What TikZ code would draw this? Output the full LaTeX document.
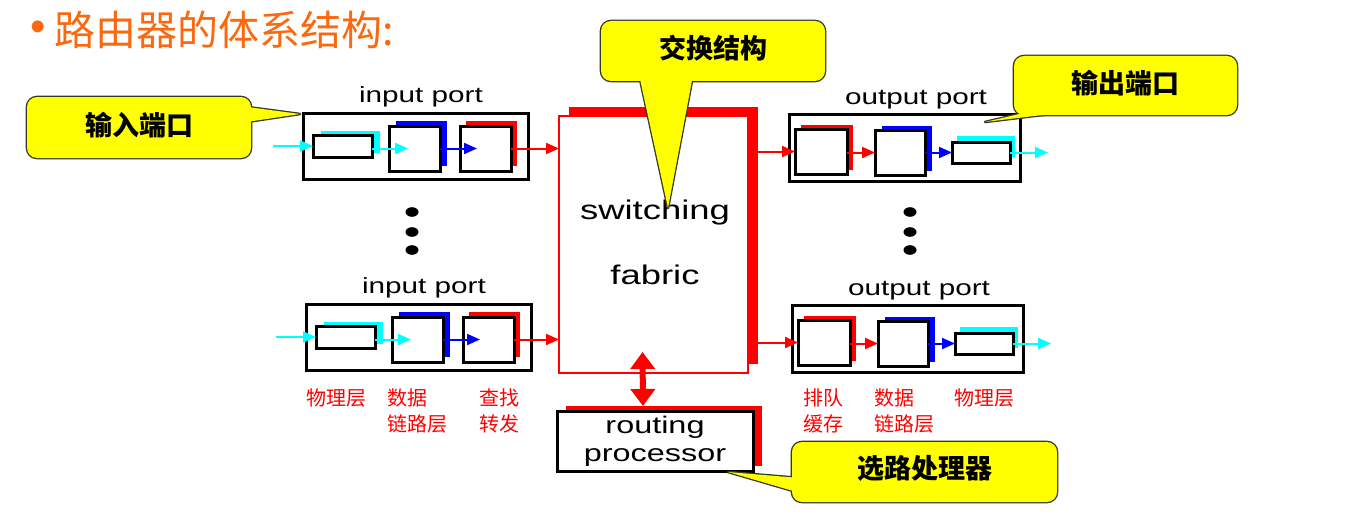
\documentclass[tikz,border=0pt]{standalone}
\usepackage{fontspec}
\usetikzlibrary{arrows.meta,shadows}
\newfontfamily\cjk{Noto Sans CJK SC}
\newfontfamily\wide[FakeStretch=1.35]{Liberation Sans}
\newfontfamily\lsans{Liberation Sans}
\definecolor{ttl}{RGB}{250,105,15}
\definecolor{cdark}{RGB}{55,55,40}
\definecolor{cy}{RGB}{0,255,255}
\definecolor{yel}{RGB}{255,255,0}
\tikzset{
  pbox/.style={draw, line width=3pt, fill=white, inner sep=0pt, outer sep=0pt, anchor=north west},
  obox/.style={draw, line width=3pt, inner sep=0pt, outer sep=0pt, anchor=north west},
  shad/.style n args={3}{general shadow={fill=#1, shadow xshift=#2pt, shadow yshift=#3pt}},
  arr/.style={-{Triangle[length=13pt,width=11pt]}, line width=2pt},
  dbl/.style={{Triangle[length=17pt,width=24pt]}-{Triangle[length=17pt,width=24pt]}, line width=6pt, red},
  lbl/.style={font=\wide\fontsize{22}{26}\selectfont, inner sep=0pt},
  rl/.style={font=\cjk\fontsize{20}{26}\selectfont, text=red, inner sep=0pt, anchor=north west, align=left},
  ctext/.style={font=\cjk\bfseries\fontsize{27}{27}\selectfont, inner sep=0pt},
  cbord/.style={draw=cdark, line width=2.6pt, line join=round},
}
\newcommand\inport[2]{%
\begin{scope}[shift={#2}]
\node[lbl] (#1t) at (421,97) {input port};
\node[obox, minimum width=225pt, minimum height=66pt] (#1) at (303,113) {};
\node[pbox, minimum width=59pt, minimum height=22pt, shad={cy}{8}{4}] (#1a) at (313,135) {};
\node[pbox, minimum width=51pt, minimum height=45pt, shad={blue}{7}{5}] (#1b) at (389,126) {};
\node[pbox, minimum width=51pt, minimum height=45pt, shad={red}{6}{5}] (#1c) at (460,126) {};
\draw[arr, cy] ([xshift=-40pt]#1a.west) -- (#1a.west);
\draw[arr, cy] (#1a.east |- #1b.west) -- ([xshift=19pt]#1b.west);
\draw[arr, blue] (#1b.east) -- ([xshift=17pt]#1c.west);
\draw[arr, red] (#1c.east) -- (#1c.east -| fab.west);
\end{scope}}
\newcommand\outport[2]{%
\begin{scope}[shift={#2}]
\node[lbl] (#1t) at (916,100) {output port};
\node[obox, minimum width=231pt, minimum height=67pt] (#1) at (789,114) {};
\node[pbox, minimum width=52pt, minimum height=45pt, shad={red}{6}{4}] (#1a) at (795,129) {};
\node[pbox, minimum width=50pt, minimum height=45pt, shad={blue}{7}{4}] (#1b) at (875,130) {};
\node[pbox, minimum width=58pt, minimum height=21pt, shad={cy}{5}{6}] (#1c) at (952,142) {};
\draw[arr, red] (#1a.west -| fab.east) -- (#1a.west);
\draw[arr, red] (#1a.east |- #1b.west) -- (#1b.west);
\draw[arr, blue] (#1b.east |- #1c.west) -- (#1c.west);
\draw[arr, cy] (#1c.east) -- ([xshift=38pt]#1c.east);
\end{scope}}
\begin{document}
\begin{tikzpicture}[x=1pt,y=-1pt]
\useasboundingbox (0,0) rectangle (1355,527);
% title
\node[text=ttl, font=\lsans\fontsize{44}{44}\selectfont, inner sep=0pt] (bul) at (38,31) {•};
\node[text=ttl, font=\cjk\fontsize{41}{41}\selectfont, inner sep=0pt, anchor=west] (title) at (54,30) {路由器的体系结构:};
% switching fabric
\node[draw=red, line width=2pt, fill=white, inner sep=0pt, outer sep=0pt, anchor=north west,
  minimum width=189pt, minimum height=257pt, shad={red}{10}{9}] (fab) at (559,116) {};
\node[lbl, font=\wide\fontsize{27}{27}\selectfont] (fab1) at (655,213) {switching};
\node[lbl, font=\wide\fontsize{27}{27}\selectfont] (fab2) at (655,275) {fabric};
% routing processor
\node[pbox, line width=3pt, minimum width=196pt, minimum height=60pt, shad={red}{9}{5},
  font=\wide\fontsize{24}{28}\selectfont, align=center] (rp) at (557,411) {routing\\processor};
\draw[dbl] ([xshift=-11pt,yshift=21pt]fab.south) -- ([xshift=-12pt,yshift=5pt]rp.north);
% ports
\inport{ipA}{(0,0)}
\inport{ipB}{(3,191)}
\outport{opA}{(0,0)}
\outport{opB}{(3,191)}
% dots
\foreach \yy in {212,232,250} {
  \fill (412,\yy) ellipse (6.5 and 4.8);
  \fill (910,\yy) ellipse (6.5 and 4.8);
}
% layer labels
\node[rl] (l1) at (306,388) {物理层};
\node[rl] (l2) at (387,388) {数据\\链路层};
\node[rl] (l3) at (479,388) {查找\\转发};
\node[rl] (l4) at (803,388) {排队\\缓存};
\node[rl] (l5) at (874,388) {数据\\链路层};
\node[rl] (l6) at (954,388) {物理层};
% callout: input port
\draw[cbord, rounded corners=10pt] (27,97) rectangle (251,158);
\draw[cbord] (240,106) -- (300,114) -- (240,123);
\fill[yel, rounded corners=10pt] (27,97) rectangle (251,158);
\fill[yel] (240,106) -- (300,114) -- (240,123) -- cycle;
\node[ctext] (c1) at (139,125) {输入端口};
% callout: switching fabric
\draw[cbord, rounded corners=10pt] (601,21) rectangle (825,81);
\draw[cbord] (638,70) -- (668,208) -- (694,70);
\fill[yel, rounded corners=10pt] (601,21) rectangle (825,81);
\fill[yel] (638,70) -- (668,208) -- (694,70) -- cycle;
\node[ctext] (c2) at (713,48) {交换结构};
% callout: output port
\draw[cbord, rounded corners=10pt] (1014,56) rectangle (1237,115);
\draw[cbord] (1045,108) -- (985,122) -- (1100,108);
\fill[yel, rounded corners=10pt] (1014,56) rectangle (1237,115);
\fill[yel] (1045,108) -- (985,122) -- (1100,108) -- cycle;
\node[ctext] (c3) at (1125,83) {输出端口};
% callout: routing processor
\draw[cbord, rounded corners=10pt] (792,442) rectangle (1057,502);
\draw[cbord] (800,478) -- (728,472) -- (800,493);
\fill[yel, rounded corners=10pt] (792,442) rectangle (1057,502);
\fill[yel] (800,478) -- (728,472) -- (800,493) -- cycle;
\node[ctext] (c4) at (925,468) {选路处理器};
\end{tikzpicture}
\end{document}
